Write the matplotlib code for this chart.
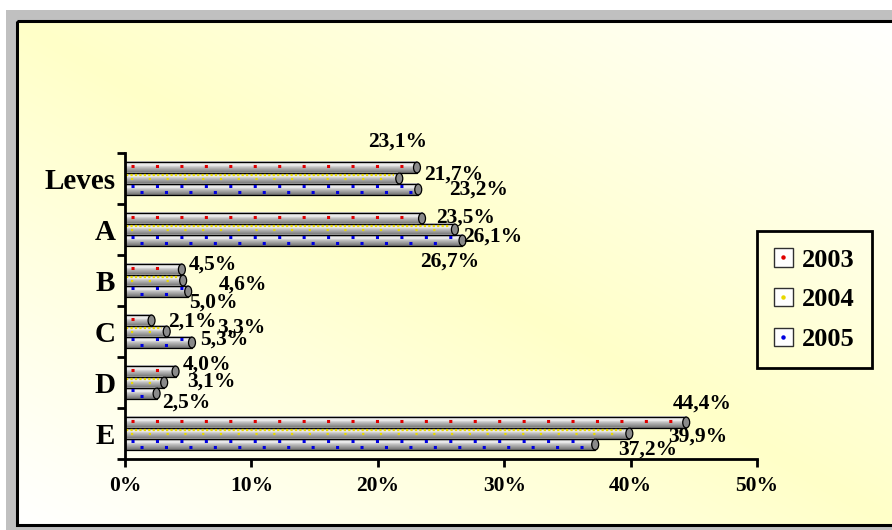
import numpy as np
import matplotlib
matplotlib.use("Agg")
import matplotlib.pyplot as plt
from matplotlib.patches import Rectangle, Ellipse, Patch
from matplotlib.lines import Line2D
from matplotlib.legend_handler import HandlerTuple
from matplotlib.colors import LinearSegmentedColormap

# --- data -------------------------------------------------------------
categories = ["E", "D", "C", "B", "A", "Leves"]          # bottom -> top
series_names = ["2003", "2004", "2005"]
values_2003 = [44.4, 4.0, 2.1, 4.5, 23.5, 23.1]
values_2004 = [39.9, 3.1, 3.3, 4.6, 26.1, 21.7]
values_2005 = [37.2, 2.5, 5.3, 5.0, 26.7, 23.2]
x_ticks = [0, 10, 20, 30, 40, 50]

series_values = [values_2003, values_2004, values_2005]
series_colors = ["#E00000", "#E8D800", "#0000E0"]

# label placement relative to bar end / bar centre (x in %, y in category units)
label_dx = [
    [1.25, 2.49, 3.2, 2.46, 3.48, -1.5],
    [5.43, 3.7, 5.88, 4.74, 3.0, 4.33],
    [4.18, 2.33, 2.53, 1.96, -0.99, 4.8],
]
label_dy = [
    [0.38, 0.13, -0.03, 0.09, 0.01, 0.50],
    [-0.07, 0.01, 0.07, -0.09, -0.13, 0.07],
    [-0.09, -0.17, 0.05, -0.22, -0.42, -0.01],
]

W, H = 892, 530
fig = plt.figure(figsize=(W / 100, H / 100), dpi=100)
fig.patch.set_facecolor("white")

serif = ["Liberation Serif", "DejaVu Serif"]

# --- frame and background (pixel coordinates) ------------------------
bg = fig.add_axes([0, 0, 1, 1])
bg.set_xlim(0, W)
bg.set_ylim(H, 0)
bg.axis("off")
bg.add_patch(Rectangle((6, 10), W - 6, H - 10, facecolor="#C0C0C0", edgecolor="none"))

# diagonal band: pale yellow along the top-left/bottom-right diagonal, white in the corners
nx, ny = 300, 200
gx, gy = np.meshgrid(np.linspace(0, 1, nx), np.linspace(0, 1, ny))
d = np.clip(np.abs(gx - gy) * 1.0, 0, 1)
yellow = np.array([255, 255, 200]) / 255.0
white = np.array([1.0, 1.0, 1.0])
img = yellow[None, None, :] * (1 - d[..., None]) + white[None, None, :] * d[..., None]
x0, y0, x1, y1 = 17, 21, W + 5, 525
bg.imshow(img, extent=(x0, x1, y1, y0), aspect="auto", zorder=1, interpolation="bilinear")
bg.add_patch(Rectangle((x0, y0), x1 - x0, y1 - y0, facecolor="none",
                       edgecolor="black", linewidth=2.2, zorder=2))

# --- main axes --------------------------------------------------------
ax = fig.add_axes([125 / W, 1 - 459 / H, (757 - 125) / W, (459 - 153) / H])
ax.patch.set_alpha(0)
ax.set_xlim(0, 50)
ax.set_ylim(-0.5, len(categories) - 0.5)

bar_h = 0.216
offsets = [bar_h, 0.0, -bar_h]

cyl = LinearSegmentedColormap.from_list(
    "cyl", ["#6E6E6E", "#8C8C8C", "#A8A8A8", "#C4C4C4", "#F4F4F4", "#D8D8D8", "#B8B8B8"])
grad = np.linspace(0, 1, 64)[:, None]

for s, vals in enumerate(series_values):
    col = series_colors[s]
    for i, v in enumerate(vals):
        yc = i + offsets[s]
        yb, yt = yc - bar_h / 2, yc + bar_h / 2
        ax.imshow(grad, extent=(0, v, yb, yt), origin="lower", cmap=cyl,
                  aspect="auto", zorder=2, interpolation="bilinear")
        ax.barh(yc, v, height=bar_h, facecolor="none", edgecolor="black",
                linewidth=0.9, zorder=3)
        # pattern marks along the tube
        if s == 0:
            ax.plot([0.5, v - 0.4], [yc + 0.03, yc + 0.03], color=col,
                    linewidth=2.2, linestyle=(0, (1, 7)), zorder=4,
                    solid_capstyle="butt", dash_capstyle="butt")
        elif s == 1:
            ax.plot([0.1, v - 0.4], [yc + 0.06, yc + 0.06], color=col,
                    linewidth=1.6, linestyle=(0, (1, 1)), zorder=4,
                    dash_capstyle="butt")
            ax.plot([0.5, v - 0.4], [yc - 0.01, yc - 0.01], color=col,
                    linewidth=1.6, linestyle=(0, (1, 7)), zorder=4,
                    dash_capstyle="butt")
        else:
            ax.plot([0.5, v - 0.4], [yc + 0.07, yc + 0.07], color=col,
                    linewidth=2.2, linestyle=(0, (1, 7)), zorder=4,
                    dash_capstyle="butt")
            ax.plot([1.2, v - 0.4], [yc - 0.05, yc - 0.05], color=col,
                    linewidth=2.2, linestyle=(0, (1, 7)), zorder=4,
                    dash_capstyle="butt")
        # end cap of the cylinder
        ax.add_patch(Ellipse((v, yc), width=0.55, height=bar_h * 0.98,
                             facecolor="#8A8A8A", edgecolor="black",
                             linewidth=0.9, zorder=5))
        # value label
        txt = f"{v:.1f}".replace(".", ",") + "%"
        ax.text(v + label_dx[s][i], yc + label_dy[s][i], txt,
                ha="center", va="center", fontsize=15.5, fontweight="bold",
                family=serif, zorder=6)

# axes styling
for side in ["top", "right"]:
    ax.spines[side].set_visible(False)
for side in ["left", "bottom"]:
    ax.spines[side].set_linewidth(2)
    ax.spines[side].set_zorder(7)

ax.set_xticks(x_ticks)
ax.set_xticklabels([f"{t}%" for t in x_ticks], fontsize=15.5,
                   fontweight="bold", family=serif)
ax.tick_params(axis="x", direction="out", length=6, width=2, pad=6)

ax.set_yticks(range(len(categories)))
ax.set_yticklabels(categories, fontsize=21, fontweight="bold", family=serif)
ax.tick_params(axis="y", which="major", length=0, pad=7)
ax.set_yticks(np.arange(-0.5, len(categories)), minor=True)
ax.tick_params(axis="y", which="minor", direction="out", length=6, width=2)

# legend
handles = []
for col in series_colors:
    handles.append((Patch(facecolor="white", edgecolor="#303030", linewidth=1),
                    Line2D([], [], marker="o", markersize=2.2, color=col, linestyle="")))
leg = fig.legend(handles, series_names, loc="upper left",
                 bbox_to_anchor=(757 / W, 1 - 231 / H),
                 handler_map={tuple: HandlerTuple(ndivide=1)},
                 prop={"family": serif, "weight": "bold", "size": 19},
                 frameon=True, fancybox=False, facecolor="none", edgecolor="black",
                 framealpha=1, handlelength=0.7, handleheight=0.7,
                 handletextpad=0.35, labelspacing=0.62, borderpad=0.65,
                 borderaxespad=0)
leg.get_frame().set_linewidth(2)

fig.savefig("out.png", dpi=100)
